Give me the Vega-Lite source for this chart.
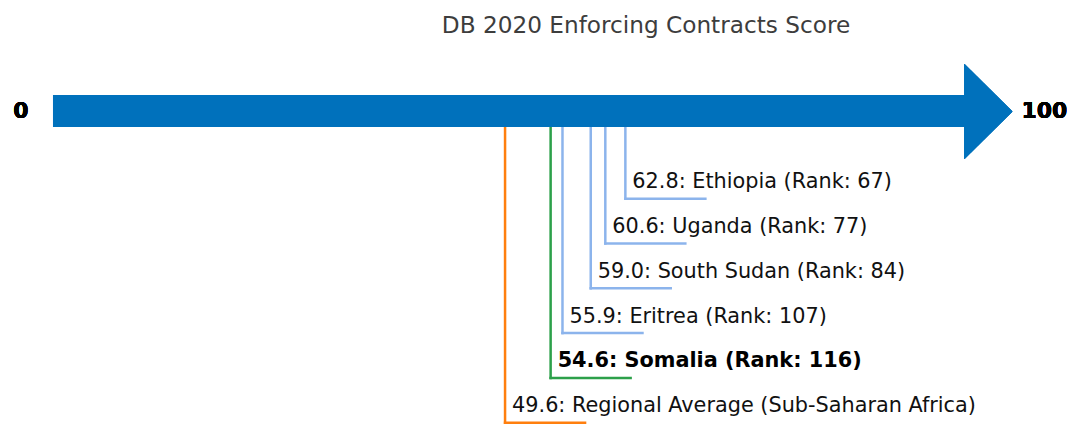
{
  "$schema": "https://vega.github.io/schema/vega-lite/v6.json",
  "width": 1072,
  "height": 424,
  "autosize": "none",
  "padding": 0,
  "background": "white",
  "config": {"view": {"stroke": null}},
  "title": {
    "text": "DB 2020 Enforcing Contracts Score",
    "font": "DejaVu Sans",
    "fontSize": 23.2,
    "fontWeight": "normal",
    "color": "#3d3d3d",
    "anchor": "middle",
    "frame": "group",
    "baseline": "alphabetic",
    "offset": -56,
    "dx": 110
  },
  "data": {
    "values": [
      {"name": "Ethiopia", "score": 62.8, "rank": 67, "tier": 1, "type": "Peer", "label": "62.8: Ethiopia (Rank: 67)"},
      {"name": "Uganda", "score": 60.6, "rank": 77, "tier": 2, "type": "Peer", "label": "60.6: Uganda (Rank: 77)"},
      {"name": "South Sudan", "score": 59.0, "rank": 84, "tier": 3, "type": "Peer", "label": "59.0: South Sudan (Rank: 84)"},
      {"name": "Eritrea", "score": 55.9, "rank": 107, "tier": 4, "type": "Peer", "label": "55.9: Eritrea (Rank: 107)"},
      {"name": "Somalia", "score": 54.6, "rank": 116, "tier": 5, "type": "Focus", "label": "54.6: Somalia (Rank: 116)"},
      {"name": "Regional Average (Sub-Saharan Africa)", "score": 49.6, "rank": null, "tier": 6, "type": "Regional", "label": "49.6: Regional Average (Sub-Saharan Africa)"}
    ]
  },
  "encoding": {
    "x": {"type": "quantitative", "scale": {"domain": [-5.815, 111.805], "nice": false, "zero": false}, "axis": null},
    "y": {"type": "quantitative", "scale": {"domain": [-3.435, 6.029], "nice": false, "zero": false, "reverse": true}, "axis": null}
  },
  "layer": [
    {
      "mark": {"type": "rule", "strokeWidth": 2.5, "strokeCap": "square"},
      "encoding": {
        "x": {"field": "score"},
        "y": {"field": "tier"},
        "y2": {"datum": -0.958},
        "color": {"field": "type", "type": "nominal", "scale": {"domain": ["Peer", "Focus", "Regional"], "range": ["#8cb4ec", "#2ca04a", "#ff7f0e"]}, "legend": null}
      }
    },
    {
      "mark": {"type": "rule", "strokeWidth": 2.5, "strokeCap": "square", "x2Offset": 80},
      "encoding": {
        "x": {"field": "score"},
        "x2": {"field": "score"},
        "y": {"field": "tier"},
        "color": {"field": "type", "type": "nominal", "legend": null}
      }
    },
    {
      "mark": {"type": "rect", "color": "#0071bc"},
      "encoding": {
        "x": {"datum": 0},
        "x2": {"datum": 100},
        "y": {"datum": -1.315},
        "y2": {"datum": -0.6}
      }
    },
    {
      "mark": {"type": "point", "shape": "M0,-1L1.01,0L0,1Z", "filled": true, "color": "#0071bc", "opacity": 1, "size": 9025, "strokeWidth": 0},
      "encoding": {
        "x": {"datum": 100},
        "y": {"datum": -0.947}
      }
    },
    {
      "transform": [{"filter": "datum.type !== 'Focus'"}],
      "mark": {"type": "text", "align": "left", "baseline": "alphabetic", "dx": 7, "dy": -10.5, "font": "DejaVu Sans", "fontSize": 20.8, "color": "#111111"},
      "encoding": {
        "x": {"field": "score"},
        "y": {"field": "tier"},
        "text": {"field": "label"}
      }
    },
    {
      "transform": [{"filter": "datum.type === 'Focus'"}],
      "mark": {"type": "text", "align": "left", "baseline": "alphabetic", "dx": 7, "dy": -10.5, "font": "DejaVu Sans", "fontSize": 20.8, "fontWeight": "bold", "color": "#000000"},
      "encoding": {
        "x": {"field": "score"},
        "y": {"field": "tier"},
        "text": {"field": "label"}
      }
    },
    {
      "mark": {"type": "text", "align": "center", "baseline": "middle", "dx": -32, "font": "DejaVu Sans", "fontSize": 22, "fontWeight": "bold", "color": "#000000", "text": "0"},
      "encoding": {
        "x": {"datum": 0},
        "y": {"datum": -0.958}
      }
    },
    {
      "mark": {"type": "text", "align": "left", "baseline": "middle", "dx": 57, "font": "DejaVu Sans", "fontSize": 22, "fontWeight": "bold", "color": "#000000", "text": "100"},
      "encoding": {
        "x": {"datum": 100},
        "y": {"datum": -0.958}
      }
    }
  ]
}
